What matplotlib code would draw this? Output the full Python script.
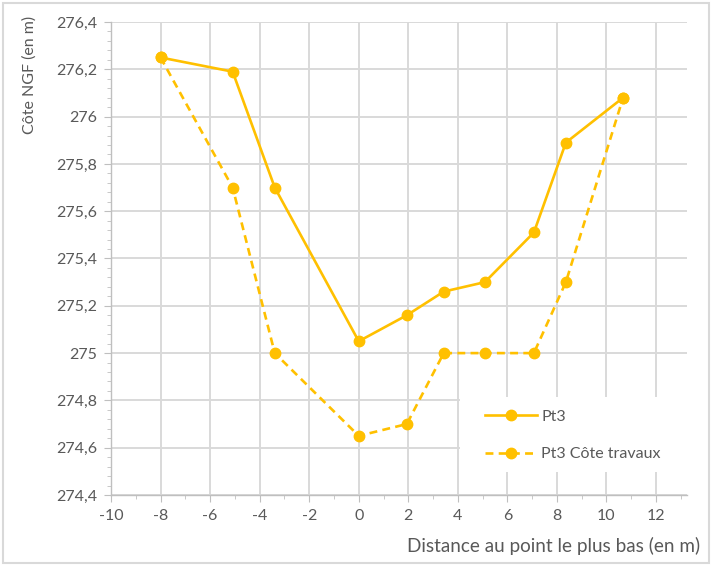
import matplotlib.pyplot as plt
from matplotlib.ticker import MultipleLocator, FuncFormatter
from matplotlib.patches import Rectangle

# distance au point le plus bas (m)
distance = [-8, -5.09, -3.39, 0, 1.94, 3.43, 5.09, 7.07, 8.36, 10.67]
# cotes NGF (m)
pt3 = [276.25, 276.19, 275.70, 275.05, 275.16, 275.26, 275.30, 275.51, 275.89, 276.08]
pt3_travaux = [276.25, 275.70, 275.00, 274.65, 274.70, 275.00, 275.00, 275.00, 275.30, 276.08]
series_labels = ['Pt3', 'Pt3 Côte travaux']

GOLD = '#FFC000'
GRID = '#D9D9D9'
TEXT = '#595959'

plt.rcParams['font.family'] = ['Lato', 'DejaVu Sans']

W, H = 712, 566
fig = plt.figure(figsize=(W / 100, H / 100), dpi=100)

# cadre du graphique
fig.patches.append(Rectangle((3 / W, 3 / H), 706 / W, 560 / H, transform=fig.transFigure,
                             fill=False, edgecolor=GRID, linewidth=1.5))

left, right, top, bottom = 111, 687, 22, 495
ax = fig.add_axes([left / W, 1 - bottom / H, (right - left) / W, (bottom - top) / H])

ax.plot(distance, pt3, color=GOLD, linewidth=1.9, marker='o', markersize=7.5,
        label=series_labels[0], zorder=3)
ax.plot(distance, pt3_travaux, color=GOLD, linewidth=1.9, linestyle=(0, (3, 2)),
        marker='o', markersize=7.5, label=series_labels[1], zorder=3)

ax.set_xlim(-10, 13.25)
ax.set_ylim(274.4, 276.4)
ax.xaxis.set_major_locator(MultipleLocator(2))
ax.xaxis.set_minor_locator(MultipleLocator(1))
ax.yaxis.set_major_locator(MultipleLocator(0.2))
ax.yaxis.set_minor_locator(MultipleLocator(0.04))

fmt = FuncFormatter(lambda v, p: f'{round(v, 2):g}'.replace('.', ','))
ax.yaxis.set_major_formatter(fmt)
ax.xaxis.set_major_formatter(FuncFormatter(lambda v, p: f'{v:g}'))

ax.grid(True, which='major', color=GRID, linewidth=1.4)
ax.set_axisbelow(True)
for s in ['top', 'right']:
    ax.spines[s].set_visible(False)
for s in ['left', 'bottom']:
    ax.spines[s].set_color('#BFBFBF')
    ax.spines[s].set_linewidth(1.0)

ax.tick_params(which='major', length=5, color='#BFBFBF', labelcolor=TEXT, labelsize=11.5, pad=5)
ax.tick_params(which='minor', length=3, color='#BFBFBF')

fig.text(30 / W, 1 - 75 / H, 'Côte NGF (en m)', rotation=90, ha='center', va='center',
         color=TEXT, fontsize=11.5)
fig.text(700 / W, 1 - 546 / H, 'Distance au point le plus bas (en m)', ha='right', va='center',
         color=TEXT, fontsize=13.6)

# fond blanc de la légende (masque la grille)
ax.add_patch(Rectangle((460 / W, 1 - 472 / H), 236 / W, 75 / H, transform=fig.transFigure,
                       facecolor='white', edgecolor='none', zorder=1.5, clip_on=False))

leg = ax.legend(loc='lower left', bbox_to_anchor=(476 / W, 1 - 470 / H, 219 / W, 75 / H),
                bbox_transform=fig.transFigure, mode='expand', frameon=False,
                fontsize=11.5, labelcolor=TEXT,
                handlelength=3.3, labelspacing=1.45, borderpad=0.55, handletextpad=0.25,
                borderaxespad=0)

fig.savefig('out.png', dpi=100)
